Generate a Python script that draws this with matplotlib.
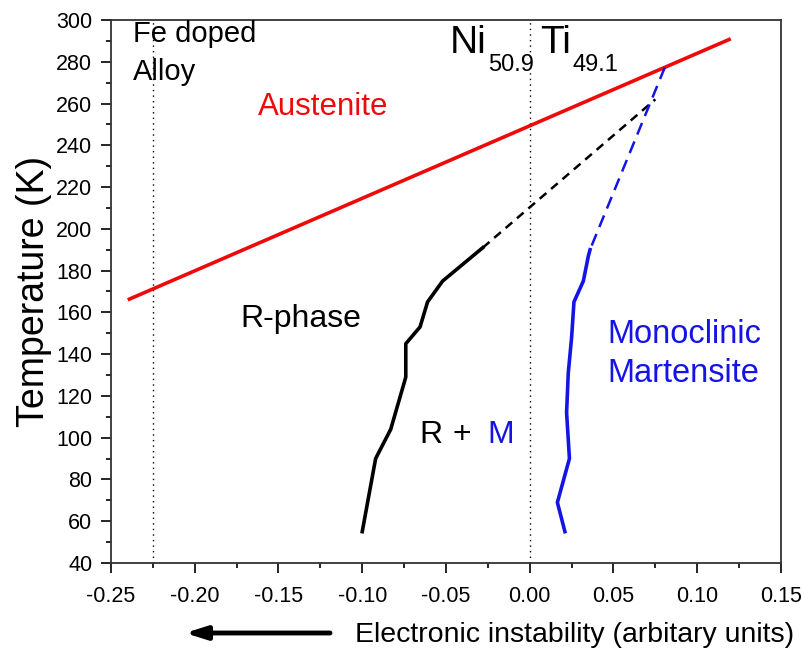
import matplotlib
matplotlib.use("Agg")
import matplotlib.pyplot as plt
from matplotlib.ticker import MultipleLocator

plt.rcParams['font.family'] = ['Liberation Sans', 'DejaVu Sans']
plt.rcParams['axes.unicode_minus'] = False

# Austenite boundary (red)
aus_x = [-0.24, 0.12]
aus_y = [166, 291]

# R-phase boundary (black solid)
r_x = [-0.100, -0.092, -0.083, -0.074, -0.074, -0.0655, -0.061, -0.052, -0.028]
r_y = [55, 90, 104, 129, 145, 153, 165, 175, 191]

# R-phase extrapolation (black dashed)
r_ext_x = [-0.028, 0.075]
r_ext_y = [191, 262]

# Monoclinic martensite boundary (blue solid)
m_x = [0.021, 0.0165, 0.0237, 0.022, 0.023, 0.025, 0.0264, 0.032, 0.035, 0.036]
m_y = [55, 69, 90, 112, 131, 148, 165, 175, 187, 190]

# Martensite extrapolation (blue dashed)
m_ext_x = [0.037, 0.081]
m_ext_y = [192, 278]

# Reference compositions (dotted verticals)
ref_x = [-0.225, 0.0]

xticks = [-0.25, -0.20, -0.15, -0.10, -0.05, 0.00, 0.05, 0.10, 0.15]
yticks = [40, 60, 80, 100, 120, 140, 160, 180, 200, 220, 240, 260, 280, 300]

RED = '#ee0a0a'
BLUE = '#1414e6'

fig = plt.figure(figsize=(8.03, 6.51), dpi=100)
ax = fig.add_axes([0.1382, 0.1352, 0.8344, 0.8341])

for xv in ref_x:
    ax.axvline(xv, color='black', lw=1.0, ls=(0, (1, 3)))

ax.plot(aus_x, aus_y, color=RED, lw=2.6, solid_capstyle='butt')
ax.plot(r_ext_x, r_ext_y, color='black', lw=1.8, ls=(0, (3.5, 2.5)))
ax.plot(m_ext_x, m_ext_y, color=BLUE, lw=1.8, ls=(0, (5, 3)))
ax.plot(r_x, r_y, color='black', lw=2.6)
ax.plot(m_x, m_y, color=BLUE, lw=2.6)

ax.set_xlim(-0.25, 0.15)
ax.set_ylim(40, 300)
ax.set_xticks(xticks)
ax.set_xticklabels([f"{v:.2f}" for v in xticks])
ax.set_yticks(yticks)
ax.xaxis.set_minor_locator(MultipleLocator(0.025))
ax.yaxis.set_minor_locator(MultipleLocator(10))
ax.tick_params(which='major', direction='out', length=7, width=1.2, labelsize=15.5)
ax.tick_params(axis='x', which='major', pad=9.5)
ax.tick_params(axis='y', which='major', pad=6.5)
ax.tick_params(which='minor', direction='out', length=3.6, width=1.2)
for s in ax.spines.values():
    s.set_linewidth(1.3)
    s.set_color('#333333')

ax.set_ylabel('Temperature (K)', fontsize=27, labelpad=3)

ax.text(-0.2369, 289.5, 'Fe doped', fontsize=21, va='baseline', ha='left')
ax.text(-0.2369, 271.3, 'Alloy', fontsize=21, va='baseline', ha='left')
ax.text(-0.1620, 254.5, 'Austenite', fontsize=22.5, color=RED, ha='left', va='baseline')
ax.text(-0.0476, 284.2, 'Ni', fontsize=28, ha='left', va='baseline')
ax.text(-0.0249, 275.6, '50.9', fontsize=17, ha='left', va='baseline')
ax.text(0.0061, 284.2, 'Ti', fontsize=28, ha='left', va='baseline')
ax.text(0.0258, 275.6, '49.1', fontsize=17, ha='left', va='baseline')
ax.text(-0.1730, 153.0, 'R-phase', fontsize=23, ha='left', va='baseline')
ax.text(0.0465, 145.3, 'Monoclinic', fontsize=23.5, color=BLUE, ha='left', va='baseline')
ax.text(0.0465, 126.7, 'Martensite', fontsize=23.5, color=BLUE, ha='left', va='baseline')
ax.text(-0.0661, 97.5, 'R', fontsize=23, ha='left', va='baseline')
ax.text(-0.0463, 97.5, '+', fontsize=23, ha='left', va='baseline')
ax.text(-0.0255, 97.5, 'M', fontsize=23, color=BLUE, ha='left', va='baseline')

fig.text(355/803, 1-642/651, 'Electronic instability (arbitary units)', fontsize=20.5,
         ha='left', va='baseline')
ax.annotate('', xy=(185/803, 1-633/651), xycoords='figure fraction',
            xytext=(330/803, 1-633/651), textcoords='figure fraction',
            arrowprops=dict(arrowstyle='-|>,head_length=0.7,head_width=0.22', lw=3.5,
                            color='black', mutation_scale=18, shrinkA=0, shrinkB=0))

fig.savefig('out.png', dpi=100)
